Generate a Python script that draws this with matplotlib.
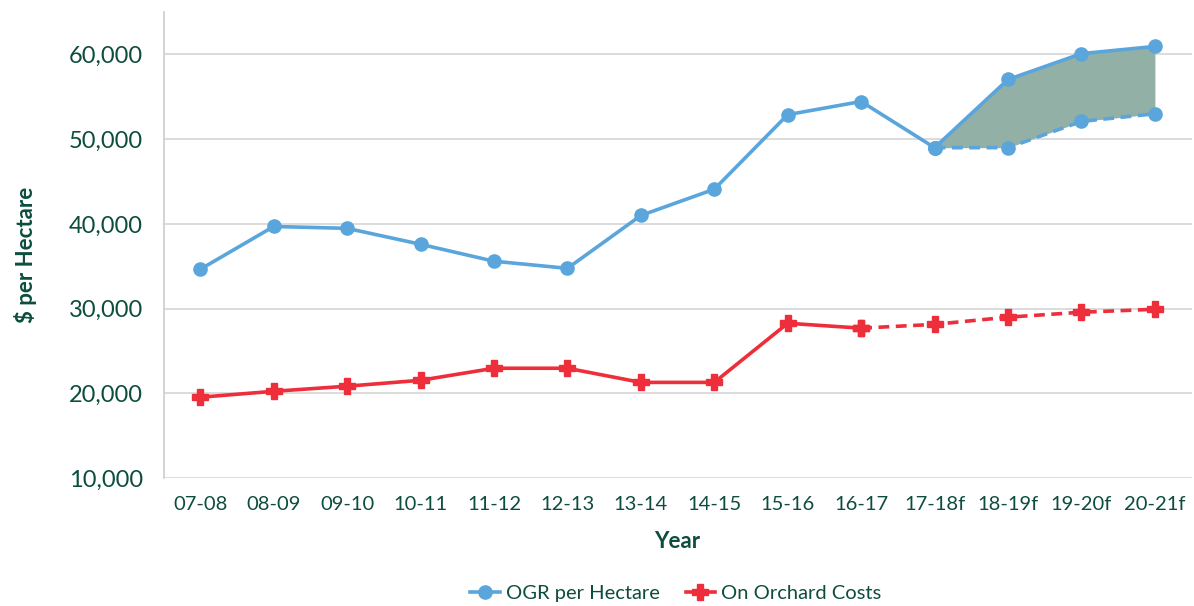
import matplotlib
matplotlib.use("Agg")
import matplotlib.pyplot as plt

years = ["07-08", "08-09", "09-10", "10-11", "11-12", "12-13", "13-14",
         "14-15", "15-16", "16-17", "17-18f", "18-19f", "19-20f", "20-21f"]
ogr_actual = [34650, 39700, 39480, 37600, 35600, 34760, 41000, 44100, 52900, 54450, 49000]
ogr_high = [49000, 57050, 60100, 60950]   # forecast upper, from 17-18f
ogr_low = [49000, 49000, 52100, 53000]    # forecast lower, from 17-18f
costs_actual = [19550, 20250, 20850, 21550, 22970, 22970, 21300, 21300, 28280, 27700]
costs_fcst = [27700, 28150, 29000, 29580, 29930]  # from 16-17

BLUE = "#5aa6dc"
RED = "#ee2e3a"
TEXT = "#0d4d3e"
FILL = "#92b0a6"

plt.rcParams["font.family"] = ["Lato", "DejaVu Sans"]

fig = plt.figure(figsize=(11.94, 6.06), dpi=100)
ax = fig.add_axes([0.137, 0.211, 0.861, 0.769])

x = list(range(len(years)))
xa = x[:len(ogr_actual)]
xf = x[len(ogr_actual) - 1:]
xc = x[:len(costs_actual)]
xcf = x[len(costs_actual) - 1:]

ax.fill_between(xf, ogr_low, ogr_high, color=FILL, zorder=2, linewidth=0)

ax.plot(xa, ogr_actual, color=BLUE, lw=2.6, marker="o", ms=9.5, zorder=4,
        label="OGR per Hectare")
ax.plot(xf, ogr_high, color=BLUE, lw=2.6, marker="o", ms=9.5, zorder=4)
ax.plot(xf, ogr_low, color=BLUE, lw=2.6, marker="o", ms=9.5, ls=(0, (3, 1.8)), zorder=4)

ax.plot(xc, costs_actual, color=RED, lw=2.6, marker="P", ms=11, zorder=4,
        label="On Orchard Costs")
ax.plot(xcf, costs_fcst, color=RED, lw=2.6, marker="P", ms=11, ls=(0, (3, 1.8)), zorder=4)

ax.set_xlim(-0.5, len(years) - 0.5)
ax.set_ylim(10000, 65000)
ax.set_xticks(x)
ax.set_xticklabels(years)
ax.set_yticks(range(10000, 60001, 10000))
ax.yaxis.set_major_formatter(matplotlib.ticker.StrMethodFormatter("{x:,.0f}"))
ax.tick_params(axis="y", length=0, pad=15, labelsize=17, labelcolor=TEXT)
ax.tick_params(axis="x", length=0, pad=13, labelsize=14.5, labelcolor=TEXT)

ax.grid(axis="y", color="#d9d9d9", lw=1.3, zorder=0)
for s in ["top", "right", "bottom"]:
    ax.spines[s].set_visible(False)
ax.spines["left"].set_color("#d0d0d0")
ax.spines["left"].set_linewidth(1.3)

ax.set_xlabel("Year", fontsize=16, fontweight="bold", color=TEXT, labelpad=13)
fig.text(0.021, 0.58, "$ per Hectare", rotation=90, fontsize=16, fontweight="bold",
         color=TEXT, ha="center", va="center")

fig.legend(loc="center", bbox_to_anchor=(0.566, 0.02), ncol=2, frameon=False,
           fontsize=14.5, labelcolor=TEXT, handlelength=1.45, handletextpad=0.3,
           columnspacing=1.3)

fig.savefig("out.png", dpi=100)
